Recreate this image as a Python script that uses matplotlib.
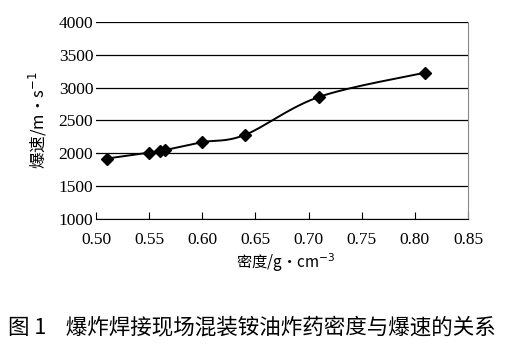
import numpy as np
import matplotlib.pyplot as plt

# 数据：密度 (g/cm^3) 与爆速 (m/s)
density = [0.51, 0.55, 0.56, 0.565, 0.60, 0.64, 0.71, 0.81]
velocity = [1920, 2010, 2035, 2050, 2170, 2280, 2860, 3230]

x_ticks = [0.50, 0.55, 0.60, 0.65, 0.70, 0.75, 0.80, 0.85]
y_ticks = [1000, 1500, 2000, 2500, 3000, 3500, 4000]

CJK = ['Noto Sans CJK SC', 'DejaVu Sans']
SERIF = ['Liberation Serif', 'DejaVu Serif']


def smooth_curve(xs, ys, n=30):
    # Excel 风格的平滑线 (Catmull-Rom)
    pts = np.column_stack([xs, ys]).astype(float)
    pts = np.vstack([pts[0], pts, pts[-1]])
    out = []
    for i in range(1, len(pts) - 2):
        p0, p1, p2, p3 = pts[i - 1], pts[i], pts[i + 1], pts[i + 2]
        t = np.linspace(0, 1, n)[:, None]
        seg = 0.5 * ((2 * p1) + (-p0 + p2) * t
                     + (2 * p0 - 5 * p1 + 4 * p2 - p3) * t ** 2
                     + (-p0 + 3 * p1 - 3 * p2 + p3) * t ** 3)
        out.append(seg)
    c = np.vstack(out)
    return c[:, 0], c[:, 1]


fig = plt.figure(figsize=(5.12, 3.52), dpi=100)
ax = fig.add_axes([96 / 512, 1 - 219 / 352, 372 / 512, 197 / 352])

for yv in y_ticks:
    ax.axhline(yv, color='black', lw=0.9, zorder=1)

sx, sy = smooth_curve(density, velocity)
ax.plot(sx, sy, color='black', lw=1.4, zorder=2)
ax.plot(density, velocity, ls='none', marker='D', ms=6, color='black', zorder=3)

ax.set_xlim(0.50, 0.85)
ax.set_ylim(1000, 4000)
ax.set_xticks(x_ticks)
ax.set_yticks(y_ticks)
ax.set_xticklabels([f"{v:.2f}" for v in x_ticks], family=SERIF, fontsize=12.5)
ax.set_yticklabels([str(v) for v in y_ticks], family=SERIF, fontsize=12.5)
ax.tick_params(axis='x', direction='in', length=5, width=0.8, pad=9)
ax.tick_params(axis='y', length=0, pad=2)

for side in ['top', 'left']:
    ax.spines[side].set_visible(False)
ax.spines['bottom'].set_color('black')
ax.spines['right'].set_color('#888888')
ax.spines['right'].set_linewidth(0.8)

fig.text(38 / 512, 1 - 120 / 352, '爆速/m·s$^{-1}$', rotation=90, ha='center', va='center',
         family=CJK, fontsize=12)
fig.text(286 / 512, 1 - 263 / 352, '密度/g·cm$^{-3}$', ha='center', va='center',
         family=CJK, fontsize=11)
fig.text(8 / 512, 1 - 327 / 352, '图 1    爆炸焊接现场混装铵油炸药密度与爆速的关系',
         ha='left', va='center', family=CJK, fontsize=15.5)

fig.savefig('out.png', dpi=100)
